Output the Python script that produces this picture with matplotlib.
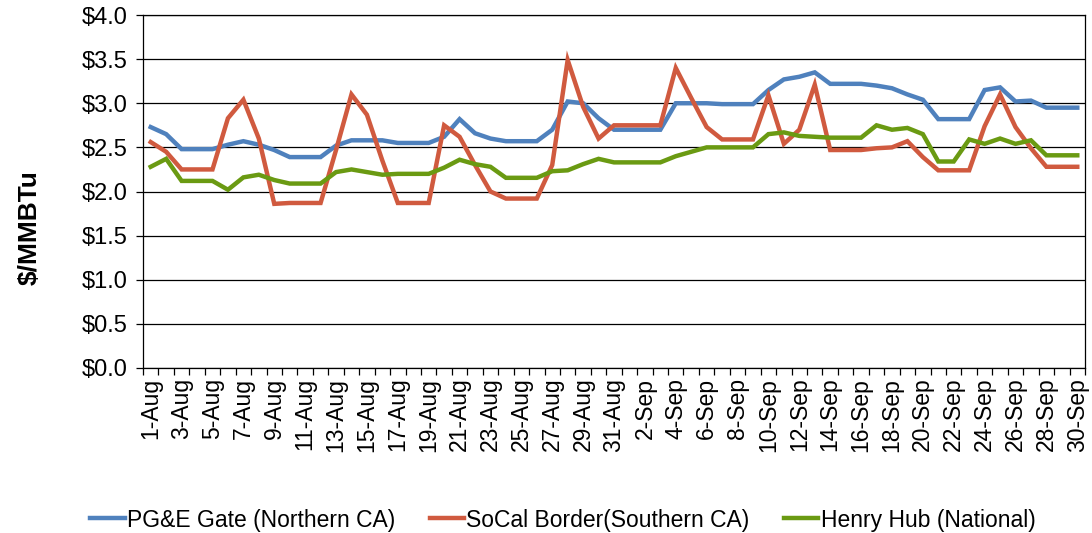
import matplotlib
matplotlib.use("Agg")
import matplotlib.pyplot as plt
import numpy as np
from matplotlib.ticker import FixedLocator, FuncFormatter

plt.rcParams['font.family'] = ['Liberation Sans', 'DejaVu Sans']

months = ["Aug"] * 31 + ["Sep"] * 30
days = list(range(1, 32)) + list(range(1, 31))
dates = [f"{d}-{m}" for d, m in zip(days, months)]

pge = [2.73, 2.65, 2.48, 2.48, 2.48, 2.53, 2.57, 2.53, 2.47, 2.39, 2.39, 2.39, 2.52, 2.58, 2.58,
       2.58, 2.55, 2.55, 2.55, 2.62, 2.82, 2.66, 2.60, 2.57, 2.57, 2.57, 2.70, 3.02, 3.00, 2.83,
       2.70, 2.70, 2.70, 2.70, 3.00, 3.00, 3.00, 2.99, 2.99, 2.99, 3.15, 3.27, 3.30, 3.35, 3.22,
       3.22, 3.22, 3.20, 3.17, 3.10, 3.04, 2.82, 2.82, 2.82, 3.15, 3.18, 3.02, 3.03, 2.95, 2.95, 2.95]
socal = [2.56, 2.45, 2.25, 2.25, 2.25, 2.83, 3.04, 2.60, 1.86, 1.87, 1.87, 1.87, 2.47, 3.10, 2.87,
         2.35, 1.87, 1.87, 1.87, 2.75, 2.62, 2.30, 2.00, 1.92, 1.92, 1.92, 2.30, 3.49, 2.96, 2.60,
         2.75, 2.75, 2.75, 2.75, 3.40, 3.06, 2.73, 2.59, 2.59, 2.59, 3.09, 2.54, 2.70, 3.21, 2.47,
         2.47, 2.47, 2.49, 2.50, 2.57, 2.39, 2.24, 2.24, 2.24, 2.74, 3.10, 2.73, 2.49, 2.28, 2.28, 2.28]
henry = [2.28, 2.37, 2.12, 2.12, 2.12, 2.02, 2.16, 2.19, 2.13, 2.09, 2.09, 2.09, 2.22, 2.25, 2.22,
         2.19, 2.20, 2.20, 2.20, 2.27, 2.36, 2.31, 2.28, 2.155, 2.155, 2.155, 2.23, 2.24, 2.31, 2.37,
         2.33, 2.33, 2.33, 2.33, 2.40, 2.45, 2.50, 2.50, 2.50, 2.50, 2.65, 2.67, 2.63, 2.62, 2.61,
         2.61, 2.61, 2.75, 2.70, 2.72, 2.65, 2.34, 2.34, 2.59, 2.54, 2.60, 2.54, 2.58, 2.41, 2.41, 2.41]

series_names = ["PG&E Gate (Northern CA)", "SoCal Border(Southern CA)", "Henry Hub (National)"]
colors = ["#4F81BD", "#D05A3F", "#6A9A12"]

W, H = 1092, 533
fig = plt.figure(figsize=(W / 100, H / 100), dpi=100)
ax = fig.add_axes([143 / W, 1 - 368 / H, (1085 - 143) / W, (368 - 15) / H])

x = np.arange(len(dates))
for vals, name, c in zip([pge, socal, henry], series_names, colors):
    ax.plot(x, vals, color=c, lw=3.2, label=name, solid_joinstyle='miter')

ax.set_xlim(-0.5, len(dates) - 0.5)
ax.set_ylim(0, 4.0)
ax.set_yticks(np.arange(0, 4.01, 0.5))
ax.yaxis.set_major_formatter(FuncFormatter(lambda v, p: f"${v:.1f}"))
ax.grid(axis='y', color='black', lw=0.9)
ax.set_axisbelow(True)

ax.xaxis.set_major_locator(FixedLocator(np.arange(-0.5, len(dates), 1.0)))
ax.xaxis.set_major_formatter(FuncFormatter(lambda v, p: ""))
ax.xaxis.set_minor_locator(FixedLocator(x[::2]))
ax.xaxis.set_minor_formatter(FuncFormatter(lambda v, p: dates[int(round(v))]))
ax.tick_params(axis='x', which='major', length=5, width=0.9, direction='out', color='black')
ax.tick_params(axis='x', which='minor', length=0, pad=7, labelsize=16.5, labelrotation=90)
ax.tick_params(axis='y', length=5, width=0.9, direction='out', labelsize=17, pad=6)

for s in ax.spines.values():
    s.set_color('black')
    s.set_linewidth(0.9)

fig.text(30 / W, 1 - 228 / H, "$/MMBTu", rotation=90, fontsize=19, fontweight='bold',
         ha='center', va='center')

fig.legend(loc='center', bbox_to_anchor=(563 / W, 1 - 520 / H), ncol=3, frameon=False,
           fontsize=16.5, handlelength=1.5, handletextpad=0.1, columnspacing=1.5)

fig.savefig("out.png", dpi=100)
